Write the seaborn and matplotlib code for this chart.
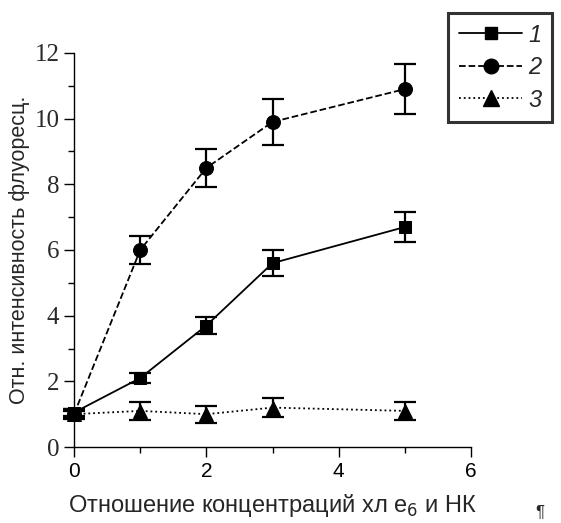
import numpy as np
import pandas as pd
import matplotlib
matplotlib.use("Agg")
import matplotlib.pyplot as plt
import seaborn as sns
from matplotlib.ticker import MultipleLocator
from matplotlib.lines import Line2D

# data
ratio = [0, 1, 2, 3, 5]
s1 = [1.05, 2.1, 3.7, 5.6, 6.7]
s1_err = [0.12, 0.15, 0.27, 0.4, 0.45]
s2 = [1.0, 6.0, 8.5, 9.9, 10.9]
s2_err = [0.1, 0.43, 0.57, 0.7, 0.76]
s3 = [1.0, 1.1, 1.0, 1.2, 1.1]
s3_err = [0.15, 0.28, 0.26, 0.28, 0.28]
labels = ["1", "2", "3"]

sns.set_style("ticks")
plt.rcParams["font.family"] = ["Liberation Sans", "DejaVu Sans"]

fig = plt.figure(figsize=(5.61, 5.23), dpi=100)
ax = fig.add_axes([0.132, 0.1453, 0.7076, 0.7534])

series = [
    (s1, s1_err, "s", "-", 8.5),
    (s2, s2_err, "o", "--", 10),
    (s3, s3_err, "^", ":", 10.5),
]
handles = []
for (vals, err, mk, ls, ms), lab in zip(series, labels):
    df = pd.DataFrame({"x": ratio, "y": vals})
    sns.lineplot(data=df, x="x", y="y", ax=ax, color="black", linestyle=ls,
                 linewidth=1.3, marker=mk, markersize=ms, markeredgecolor="black",
                 clip_on=False, zorder=3)
    ax.errorbar(ratio, vals, yerr=err, fmt="none", ecolor="black",
                elinewidth=1.6, capsize=8, capthick=1.6, clip_on=False, zorder=3)
    handles.append(Line2D([], [], color="black", linestyle=ls, linewidth=1.3,
                          marker=mk, markersize=ms + 0.5))

ax.set_xlim(0, 6)
ax.set_ylim(0, 12)
ax.xaxis.set_major_locator(MultipleLocator(2))
ax.xaxis.set_minor_locator(MultipleLocator(1))
ax.yaxis.set_major_locator(MultipleLocator(2))
ax.yaxis.set_minor_locator(MultipleLocator(1))
ax.tick_params(which="major", direction="out", length=7, width=1, colors="black")
ax.tick_params(which="minor", direction="out", length=4, width=1, colors="black")
for t in ax.get_yticklabels():
    t.set_fontfamily(["Liberation Serif", "DejaVu Serif"])
    t.set_fontsize(18)
    t.set_color("#2a2a2a")
for t in ax.get_xticklabels():
    t.set_fontsize(15)
sns.despine(ax=ax)
for sp in ax.spines.values():
    sp.set_color("black")
    sp.set_linewidth(1)

ax.set_xlabel("Отношение концентраций хл e$_6$ и НК", fontsize=17, labelpad=8)
ax.set_ylabel("Отн. интенсивность флуоресц.", fontsize=15.5, labelpad=3)

leg = fig.legend(handles, labels, loc="upper left",
                 bbox_to_anchor=(448 / 561, 1 - 13 / 523), frameon=True,
                 fancybox=False, handlelength=2.7, handletextpad=0.25,
                 borderpad=0.45, labelspacing=0.4, borderaxespad=0,
                 prop={"size": 17, "style": "italic"})
leg.get_frame().set_edgecolor("black")
leg.get_frame().set_linewidth(2.2)

fig.text(540 / 561, 1 - 512 / 523, "¶", fontsize=12, ha="center", va="center")

fig.savefig("out.png", dpi=100)
